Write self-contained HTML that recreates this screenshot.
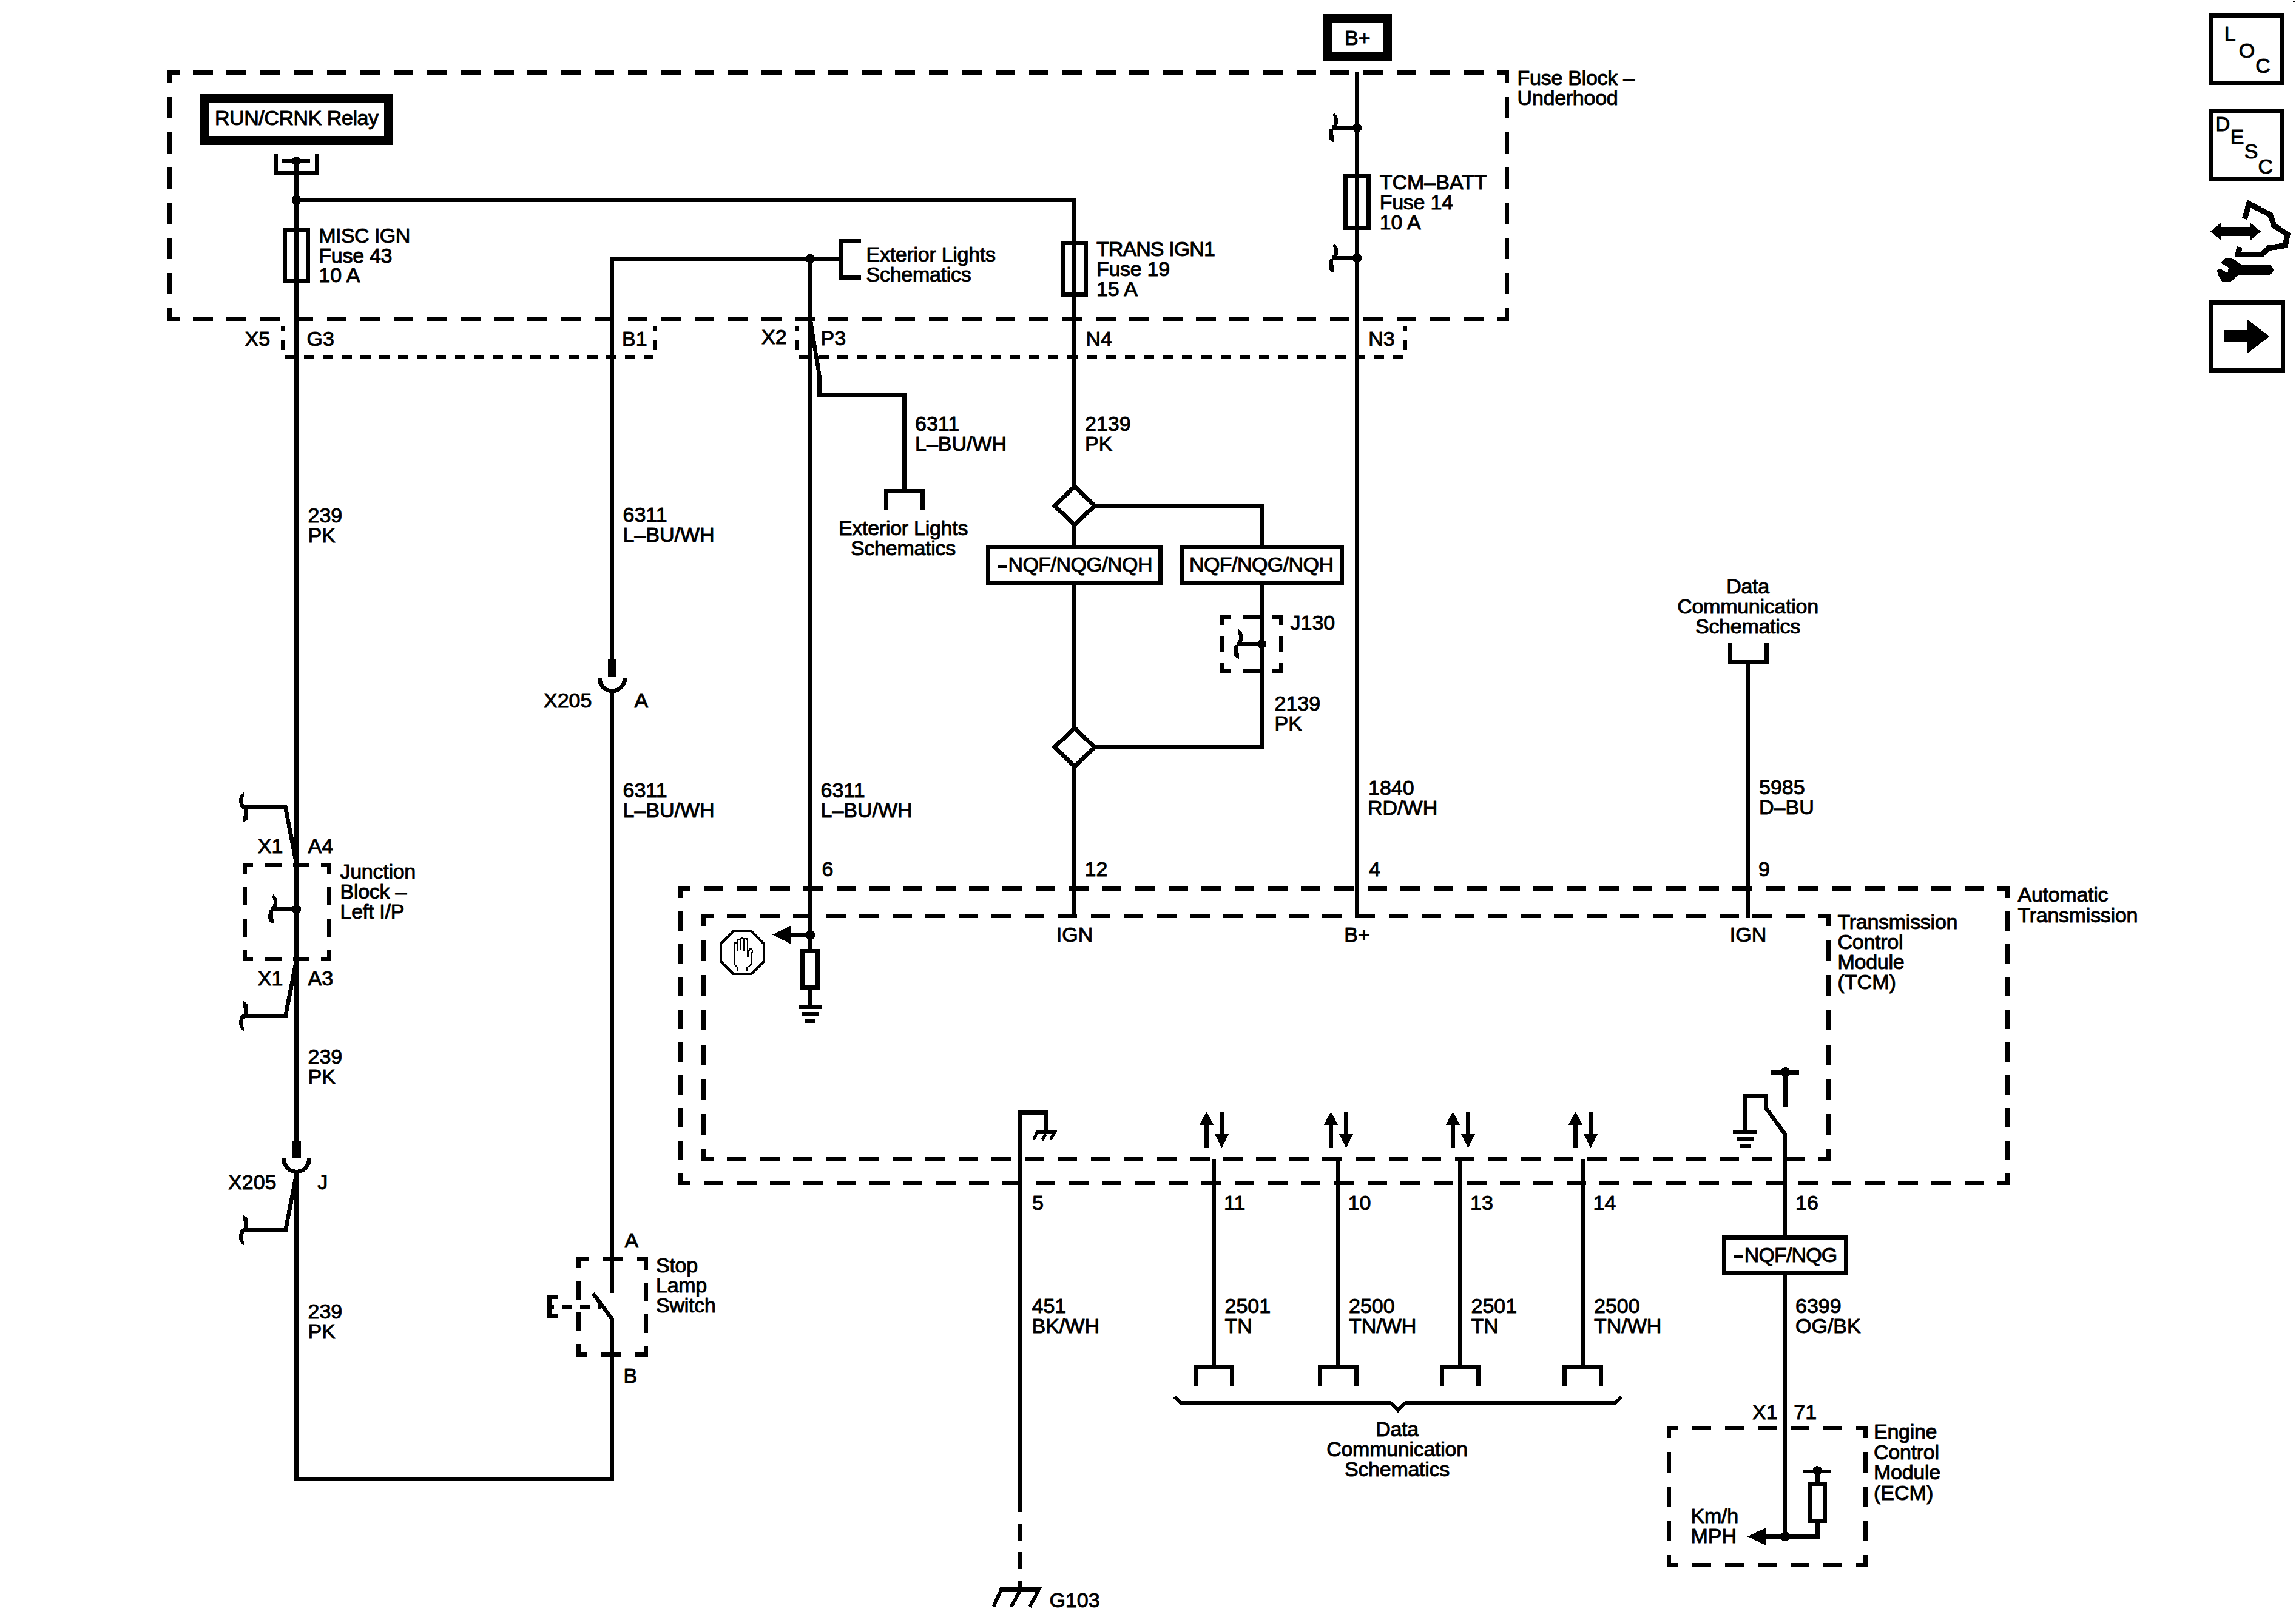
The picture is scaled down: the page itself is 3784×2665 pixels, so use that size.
<!DOCTYPE html>
<html><head><meta charset="utf-8"><title>Automatic Transmission Controls Schematic</title>
<style>
html,body{margin:0;padding:0;background:#fff;}
body{width:3784px;height:2665px;overflow:hidden;}
svg{display:block;}
text{font-family:"Liberation Sans",sans-serif;font-size:34px;fill:#000;stroke:#000;stroke-width:1px;stroke-linejoin:round;}
</style></head><body>
<svg width="3784" height="2665" viewBox="0 0 3784 2665" stroke="#000" fill="none" shape-rendering="crispEdges">
<rect x="0" y="0" width="3784" height="2665" fill="#fff" stroke="none"/>
<path d="M276.15 119.5L295.75 119.5M318.35 119.5L350.85 119.5M373.45 119.5L405.95 119.5M428.55 119.5L461.05 119.5M483.65 119.5L516.15 119.5M538.75 119.5L571.25 119.5M593.85 119.5L626.35 119.5M648.95 119.5L681.45 119.5M704.05 119.5L736.55 119.5M759.15 119.5L791.65 119.5M814.25 119.5L846.75 119.5M869.35 119.5L901.85 119.5M924.45 119.5L956.95 119.5M979.55 119.5L1012.05 119.5M1034.65 119.5L1067.15 119.5M1089.75 119.5L1122.25 119.5M1144.85 119.5L1177.35 119.5M1199.95 119.5L1232.45 119.5M1255.05 119.5L1287.55 119.5M1310.15 119.5L1342.65 119.5M1365.25 119.5L1397.75 119.5M1420.35 119.5L1452.85 119.5M1475.45 119.5L1507.95 119.5M1530.55 119.5L1563.05 119.5M1585.65 119.5L1618.15 119.5M1640.75 119.5L1673.25 119.5M1695.85 119.5L1728.35 119.5M1750.95 119.5L1783.45 119.5M1806.05 119.5L1838.55 119.5M1861.15 119.5L1893.65 119.5M1916.25 119.5L1948.75 119.5M1971.35 119.5L2003.85 119.5M2026.45 119.5L2058.95 119.5M2081.55 119.5L2114.05 119.5M2136.65 119.5L2169.15 119.5M2191.75 119.5L2224.25 119.5M2246.85 119.5L2279.35 119.5M2301.95 119.5L2334.45 119.5M2357.05 119.5L2389.55 119.5M2412.15 119.5L2444.65 119.5M2467.25 119.5L2486.85 119.5" fill="none" stroke-width="6.7" />
<path d="M276.15 525.5L295.75 525.5M318.35 525.5L350.85 525.5M373.45 525.5L405.95 525.5M428.55 525.5L461.05 525.5M483.65 525.5L516.15 525.5M538.75 525.5L571.25 525.5M593.85 525.5L626.35 525.5M648.95 525.5L681.45 525.5M704.05 525.5L736.55 525.5M759.15 525.5L791.65 525.5M814.25 525.5L846.75 525.5M869.35 525.5L901.85 525.5M924.45 525.5L956.95 525.5M979.55 525.5L1012.05 525.5M1034.65 525.5L1067.15 525.5M1089.75 525.5L1122.25 525.5M1144.85 525.5L1177.35 525.5M1199.95 525.5L1232.45 525.5M1255.05 525.5L1287.55 525.5M1310.15 525.5L1342.65 525.5M1365.25 525.5L1397.75 525.5M1420.35 525.5L1452.85 525.5M1475.45 525.5L1507.95 525.5M1530.55 525.5L1563.05 525.5M1585.65 525.5L1618.15 525.5M1640.75 525.5L1673.25 525.5M1695.85 525.5L1728.35 525.5M1750.95 525.5L1783.45 525.5M1806.05 525.5L1838.55 525.5M1861.15 525.5L1893.65 525.5M1916.25 525.5L1948.75 525.5M1971.35 525.5L2003.85 525.5M2026.45 525.5L2058.95 525.5M2081.55 525.5L2114.05 525.5M2136.65 525.5L2169.15 525.5M2191.75 525.5L2224.25 525.5M2246.85 525.5L2279.35 525.5M2301.95 525.5L2334.45 525.5M2357.05 525.5L2389.55 525.5M2412.15 525.5L2444.65 525.5M2467.25 525.5L2486.85 525.5" fill="none" stroke-width="6.7" />
<path d="M279.5 116.15L279.5 136.61M279.5 160.39L279.5 194.61M279.5 218.39L279.5 252.61M279.5 276.39L279.5 310.61M279.5 334.39L279.5 368.61M279.5 392.39L279.5 426.61M279.5 450.39L279.5 484.61M279.5 508.39L279.5 528.85" fill="none" stroke-width="6.7" />
<path d="M2483.5 116.15L2483.5 136.61M2483.5 160.39L2483.5 194.61M2483.5 218.39L2483.5 252.61M2483.5 276.39L2483.5 310.61M2483.5 334.39L2483.5 368.61M2483.5 392.39L2483.5 426.61M2483.5 450.39L2483.5 484.61M2483.5 508.39L2483.5 528.85" fill="none" stroke-width="6.7" />
<text transform="translate(2500.6 140.2) scale(1 1)" letter-spacing="-0.27">Fuse Block –</text>
<text transform="translate(2500.6 173.2) scale(1 1)" letter-spacing="-0.27">Underhood</text>
<rect x="336.5" y="162.6" width="303.9" height="68.8" fill="#fff" stroke-width="15"/>
<text transform="translate(354 205.8) scale(1 1)" textLength="270" lengthAdjust="spacing">RUN/CRNK Relay</text>
<polyline points="454.7,254.2 454.7,285.3 522.6,285.3 522.6,254.2" fill="none" stroke-width="6.7" stroke-linejoin="miter" stroke-linecap="butt"/>
<line x1="465" y1="265.4" x2="510.8" y2="265.4" stroke-width="6.7"/>
<circle cx="488.5" cy="265.4" r="7.8" fill="#000" stroke="none"/>
<line x1="488.5" y1="265.4" x2="488.5" y2="1881" stroke-width="6.7"/>
<circle cx="488.5" cy="329.5" r="8.1" fill="#000" stroke="none"/>
<polyline points="488.5,329.5 1770.5,329.5 1770.5,801.5" fill="none" stroke-width="6.7" stroke-linejoin="miter" stroke-linecap="butt"/>
<rect x="469.5" y="378.25" width="38" height="85.1" fill="none" stroke-width="6.9"/>
<text transform="translate(525.3 399.8) scale(1 1)" textLength="151" lengthAdjust="spacing">MISC IGN</text>
<text transform="translate(525.3 432.6) scale(1 1)" letter-spacing="-0.27">Fuse 43</text>
<text transform="translate(525.3 465.4) scale(1 1)">10 A</text>
<rect x="1751.45" y="400.65" width="38.1" height="84.6" fill="none" stroke-width="6.9"/>
<text transform="translate(1806.9 421.5) scale(1 1)" textLength="196" lengthAdjust="spacing">TRANS IGN1</text>
<text transform="translate(1806.9 454.6) scale(1 1)" letter-spacing="-0.27">Fuse 19</text>
<text transform="translate(1806.9 487.7) scale(1 1)">15 A</text>
<rect x="2187.5" y="30.4" width="98.8" height="62.8" fill="#fff" stroke-width="14.9"/>
<text transform="translate(2216 73.9) scale(1 1)">B+</text>
<line x1="2236.5" y1="118.9" x2="2236.5" y2="1512.7" stroke-width="6.7"/>
<rect x="2217.1" y="290.45" width="38.8" height="84.6" fill="none" stroke-width="6.9"/>
<text transform="translate(2273.7 311.9) scale(1 1)">TCM–BATT</text>
<text transform="translate(2273.7 345.1) scale(1 1)" letter-spacing="-0.27">Fuse 14</text>
<text transform="translate(2273.7 378.3) scale(1 1)">10 A</text>
<circle cx="2236.5" cy="210.4" r="7.8" fill="#000" stroke="none"/>
<line x1="2198.3" y1="210.4" x2="2236.5" y2="210.4" stroke-width="6.7"/>
<g transform="translate(2198.3 210.4) scale(-1 1)" stroke="none" fill="#000"><path d="M0.5,-24.5 C-4,-22 -7,-17 -7,-11 C-7,-5 -5,0.5 -1,3.4 L3,3.4 L3,-3.4 C1.5,-3.6 0.6,-4.5 0.1,-6 C-0.5,-9 -0.6,-13 -0.1,-15.4 C0.2,-17 0.6,-18 1.2,-19 Z"/><path d="M0.9,2 L0.9,10 C0.9,13 0.3,16 -0.7,18 L0,24.3 C3,23.8 5.5,22 6.9,19.5 C8.2,17 8.3,14 8.2,11 C8.1,7.5 7.6,5 6.5,2 Z"/></g>
<circle cx="2236.5" cy="425.4" r="7.8" fill="#000" stroke="none"/>
<line x1="2198.3" y1="425.4" x2="2236.5" y2="425.4" stroke-width="6.7"/>
<g transform="translate(2198.3 425.4) scale(-1 1)" stroke="none" fill="#000"><path d="M0.5,-24.5 C-4,-22 -7,-17 -7,-11 C-7,-5 -5,0.5 -1,3.4 L3,3.4 L3,-3.4 C1.5,-3.6 0.6,-4.5 0.1,-6 C-0.5,-9 -0.6,-13 -0.1,-15.4 C0.2,-17 0.6,-18 1.2,-19 Z"/><path d="M0.9,2 L0.9,10 C0.9,13 0.3,16 -0.7,18 L0,24.3 C3,23.8 5.5,22 6.9,19.5 C8.2,17 8.3,14 8.2,11 C8.1,7.5 7.6,5 6.5,2 Z"/></g>
<polyline points="1009,1086 1009,426.5 1384,426.5" fill="none" stroke-width="6.7" stroke-linejoin="miter" stroke-linecap="butt"/>
<circle cx="1335.5" cy="426.5" r="7.9" fill="#000" stroke="none"/>
<polyline points="1419,397.5 1386.6,397.5 1386.6,457.3 1419,457.3" fill="none" stroke-width="6.7" stroke-linejoin="miter" stroke-linecap="butt"/>
<text transform="translate(1427.5 430.8) scale(1 1)" letter-spacing="-0.27">Exterior Lights</text>
<text transform="translate(1427.5 464.2) scale(1 1)" letter-spacing="-0.27">Schematics</text>
<line x1="1335.5" y1="426.5" x2="1335.5" y2="1566" stroke-width="6.7"/>
<path d="M466.2 537.2L466.2 545.6M466.2 560.3L466.2 576.7" fill="none" stroke-width="6.9" />
<path d="M469.4 588.2L486.2 588.2M500.56 588.2L517.36 588.2M531.72 588.2L548.52 588.2M562.88 588.2L579.68 588.2M594.04 588.2L610.84 588.2M625.2 588.2L642 588.2M656.36 588.2L673.16 588.2M687.52 588.2L704.32 588.2M718.68 588.2L735.48 588.2M749.84 588.2L766.64 588.2M781 588.2L797.8 588.2M812.16 588.2L828.96 588.2M843.32 588.2L860.12 588.2M874.48 588.2L891.28 588.2M905.64 588.2L922.44 588.2M936.8 588.2L953.6 588.2M967.96 588.2L984.76 588.2M999.12 588.2L1015.92 588.2M1030.28 588.2L1047.08 588.2M1061.44 588.2L1077 588.2" fill="none" stroke-width="6.9" />
<path d="M1079.1 537.2L1079.1 545.6M1079.1 560.3L1079.1 576.7" fill="none" stroke-width="6.9" />
<path d="M1313.6 537.2L1313.6 545.6M1313.6 560.3L1313.6 576.7" fill="none" stroke-width="6.9" />
<path d="M1317 588.4L1334 588.4M1348.57 588.4L1365.57 588.4M1380.14 588.4L1397.14 588.4M1411.71 588.4L1428.71 588.4M1443.28 588.4L1460.28 588.4M1474.85 588.4L1491.85 588.4M1506.42 588.4L1523.42 588.4M1537.99 588.4L1554.99 588.4M1569.56 588.4L1586.56 588.4M1601.13 588.4L1618.13 588.4M1632.7 588.4L1649.7 588.4M1664.27 588.4L1681.27 588.4M1695.84 588.4L1712.84 588.4M1727.41 588.4L1744.41 588.4M1758.98 588.4L1775.98 588.4M1790.55 588.4L1807.55 588.4M1822.12 588.4L1839.12 588.4M1853.69 588.4L1870.69 588.4M1885.26 588.4L1902.26 588.4M1916.83 588.4L1933.83 588.4M1948.4 588.4L1965.4 588.4M1979.97 588.4L1996.97 588.4M2011.54 588.4L2028.54 588.4M2043.11 588.4L2060.11 588.4M2074.68 588.4L2091.68 588.4M2106.25 588.4L2123.25 588.4M2137.82 588.4L2154.82 588.4M2169.39 588.4L2186.39 588.4M2200.96 588.4L2217.96 588.4M2232.53 588.4L2249.53 588.4M2264.1 588.4L2281.1 588.4M2295.67 588.4L2312.5 588.4" fill="none" stroke-width="6.9" />
<path d="M2315.3 537.2L2315.3 545.6M2315.3 560.3L2315.3 576.7" fill="none" stroke-width="6.9" />
<text transform="translate(403.5 570) scale(1 1)">X5</text>
<text transform="translate(505.5 570) scale(1 1)">G3</text>
<text transform="translate(1025 570) scale(1 1)">B1</text>
<text transform="translate(1255 567.3) scale(1 1)">X2</text>
<text transform="translate(1352.5 569) scale(1 1)">P3</text>
<text transform="translate(1789.5 569.5) scale(1 1)">N4</text>
<text transform="translate(2255.2 569.5) scale(1 1)">N3</text>
<polyline points="1335.5,527 1350.5,620.2 1350.5,650.5 1490.5,650.5 1490.5,812" fill="none" stroke-width="6.7" stroke-linejoin="miter" stroke-linecap="butt"/>
<polyline points="1459.85,840.5 1459.85,809 1520.15,809 1520.15,840.5" fill="none" stroke-width="6.7" stroke-linejoin="miter" stroke-linecap="butt"/>
<text transform="translate(1508 709.7) scale(1 1)">6311</text>
<text transform="translate(1508 742.7) scale(1 1)">L–BU/WH</text>
<text transform="translate(1488.5 882) scale(1 1)" text-anchor="middle" letter-spacing="-0.27">Exterior Lights</text>
<text transform="translate(1488.5 915) scale(1 1)" text-anchor="middle" letter-spacing="-0.27">Schematics</text>
<text transform="translate(507.5 861) scale(1 1)">239</text>
<text transform="translate(507.5 894) scale(1 1)">PK</text>
<text transform="translate(1026.5 859.7) scale(1 1)">6311</text>
<text transform="translate(1026.5 892.7) scale(1 1)">L–BU/WH</text>
<text transform="translate(1026.5 1314) scale(1 1)">6311</text>
<text transform="translate(1026.5 1347) scale(1 1)">L–BU/WH</text>
<text transform="translate(1352.5 1313.5) scale(1 1)">6311</text>
<text transform="translate(1352.5 1346.5) scale(1 1)">L–BU/WH</text>
<text transform="translate(1788 709.7) scale(1 1)">2139</text>
<text transform="translate(1788 742.7) scale(1 1)">PK</text>
<text transform="translate(2255 1309.7) scale(1 1)">1840</text>
<text transform="translate(2254 1342.7) scale(1 1)">RD/WH</text>
<text transform="translate(2899 1309) scale(1 1)">5985</text>
<text transform="translate(2899 1342) scale(1 1)">D–BU</text>
<polyline points="1800.5,833.5 2079.5,833.5 2079.5,900" fill="none" stroke-width="6.7" stroke-linejoin="miter" stroke-linecap="butt"/>
<polyline points="1800.5,1231.5 2079.5,1231.5 2079.5,962" fill="none" stroke-width="6.7" stroke-linejoin="miter" stroke-linecap="butt"/>
<line x1="1770.5" y1="860" x2="1770.5" y2="1205" stroke-width="6.7"/>
<line x1="1770.5" y1="1258" x2="1770.5" y2="1512.7" stroke-width="6.7"/>
<polygon points="1771,801.9 1803.9,833.5 1771,865.1 1738.1,833.5" fill="#fff" stroke-width="7"/>
<polygon points="1771,1199.9 1803.9,1231.5 1771,1263.1 1738.1,1231.5" fill="#fff" stroke-width="7"/>
<rect x="1628.5" y="901.5" width="284" height="59" fill="#fff" stroke-width="7"/>
<rect x="1947.5" y="901.5" width="263.5" height="59" fill="#fff" stroke-width="7"/>
<line x1="1644.1" y1="933.9" x2="1659.9" y2="933.9" stroke-width="4"/>
<text transform="translate(1661.5 942.4) scale(1 1)" textLength="238" lengthAdjust="spacing">NQF/NQG/NQH</text>
<text transform="translate(1960 942.4) scale(1 1)" textLength="238" lengthAdjust="spacing">NQF/NQG/NQH</text>
<path d="M2010.15 1016.5L2027.95 1016.5M2048.05 1016.5L2076.95 1016.5M2097.05 1016.5L2114.85 1016.5" fill="none" stroke-width="6.7" />
<path d="M2010.15 1105.5L2027.95 1105.5M2048.05 1105.5L2076.95 1105.5M2097.05 1105.5L2114.85 1105.5" fill="none" stroke-width="6.7" />
<path d="M2013.5 1013.15L2013.5 1029.63M2013.5 1047.87L2013.5 1074.13M2013.5 1092.37L2013.5 1108.85" fill="none" stroke-width="6.7" />
<path d="M2111.5 1013.15L2111.5 1029.63M2111.5 1047.87L2111.5 1074.13M2111.5 1092.37L2111.5 1108.85" fill="none" stroke-width="6.7" />
<circle cx="2079.5" cy="1061.5" r="7.7" fill="#000" stroke="none"/>
<line x1="2041.5" y1="1061.4" x2="2079.5" y2="1061.4" stroke-width="6.7"/>
<g transform="translate(2041.5 1061.4) scale(-1 1)" stroke="none" fill="#000"><path d="M0.5,-24.5 C-4,-22 -7,-17 -7,-11 C-7,-5 -5,0.5 -1,3.4 L3,3.4 L3,-3.4 C1.5,-3.6 0.6,-4.5 0.1,-6 C-0.5,-9 -0.6,-13 -0.1,-15.4 C0.2,-17 0.6,-18 1.2,-19 Z"/><path d="M0.9,2 L0.9,10 C0.9,13 0.3,16 -0.7,18 L0,24.3 C3,23.8 5.5,22 6.9,19.5 C8.2,17 8.3,14 8.2,11 C8.1,7.5 7.6,5 6.5,2 Z"/></g>
<text transform="translate(2126.5 1037.6) scale(1 1)">J130</text>
<text transform="translate(2100.5 1170.8) scale(1 1)">2139</text>
<text transform="translate(2100.5 1203.8) scale(1 1)">PK</text>
<rect x="1002" y="1085.9" width="14" height="30" fill="#000" stroke-width="0"/>
<path d="M988.2 1117L988.2 1118A20.8 20.8 0 0 0 1029.8 1118L1029.8 1117" fill="none" stroke-width="6.8" />
<line x1="1009" y1="1136.8" x2="1009" y2="2131" stroke-width="6.7"/>
<text transform="translate(896 1165.8) scale(1 1)">X205</text>
<text transform="translate(1045.5 1165.8) scale(1 1)">A</text>
<text transform="translate(2880.5 977.8) scale(1 1)" text-anchor="middle" letter-spacing="-0.27">Data</text>
<text transform="translate(2880.5 1011.1) scale(1 1)" text-anchor="middle" letter-spacing="-0.27">Communication</text>
<text transform="translate(2880.5 1044.4) scale(1 1)" text-anchor="middle" letter-spacing="-0.27">Schematics</text>
<polyline points="2851.5,1058.9 2851.5,1090.6 2911.8,1090.6 2911.8,1058.9" fill="none" stroke-width="6.7" stroke-linejoin="miter" stroke-linecap="butt"/>
<line x1="2880.5" y1="1087" x2="2880.5" y2="1512.7" stroke-width="6.7"/>
<text transform="translate(1354.5 1443.6) scale(1 1)">6</text>
<text transform="translate(1787.5 1443.6) scale(1 1)">12</text>
<text transform="translate(2256 1443.6) scale(1 1)">4</text>
<text transform="translate(2898 1444) scale(1 1)">9</text>
<path d="M1118.15 1464.5L1137.63 1464.5M1160.05 1464.5L1192.3 1464.5M1214.72 1464.5L1246.98 1464.5M1269.4 1464.5L1301.65 1464.5M1324.07 1464.5L1356.33 1464.5M1378.75 1464.5L1411 1464.5M1433.42 1464.5L1465.68 1464.5M1488.1 1464.5L1520.35 1464.5M1542.77 1464.5L1575.03 1464.5M1597.45 1464.5L1629.7 1464.5M1652.12 1464.5L1684.38 1464.5M1706.8 1464.5L1739.05 1464.5M1761.47 1464.5L1793.73 1464.5M1816.15 1464.5L1848.4 1464.5M1870.82 1464.5L1903.08 1464.5M1925.5 1464.5L1957.75 1464.5M1980.17 1464.5L2012.43 1464.5M2034.85 1464.5L2067.1 1464.5M2089.52 1464.5L2121.78 1464.5M2144.2 1464.5L2176.45 1464.5M2198.87 1464.5L2231.13 1464.5M2253.55 1464.5L2285.8 1464.5M2308.22 1464.5L2340.48 1464.5M2362.9 1464.5L2395.15 1464.5M2417.57 1464.5L2449.83 1464.5M2472.25 1464.5L2504.5 1464.5M2526.92 1464.5L2559.18 1464.5M2581.6 1464.5L2613.85 1464.5M2636.27 1464.5L2668.53 1464.5M2690.95 1464.5L2723.2 1464.5M2745.62 1464.5L2777.88 1464.5M2800.3 1464.5L2832.55 1464.5M2854.97 1464.5L2887.23 1464.5M2909.65 1464.5L2941.9 1464.5M2964.32 1464.5L2996.58 1464.5M3019 1464.5L3051.25 1464.5M3073.67 1464.5L3105.93 1464.5M3128.35 1464.5L3160.6 1464.5M3183.02 1464.5L3215.28 1464.5M3237.7 1464.5L3269.95 1464.5M3292.37 1464.5L3311.85 1464.5" fill="none" stroke-width="6.7" />
<path d="M1118.15 1949.5L1137.63 1949.5M1160.05 1949.5L1192.3 1949.5M1214.72 1949.5L1246.98 1949.5M1269.4 1949.5L1301.65 1949.5M1324.07 1949.5L1356.33 1949.5M1378.75 1949.5L1411 1949.5M1433.42 1949.5L1465.68 1949.5M1488.1 1949.5L1520.35 1949.5M1542.77 1949.5L1575.03 1949.5M1597.45 1949.5L1629.7 1949.5M1652.12 1949.5L1684.38 1949.5M1706.8 1949.5L1739.05 1949.5M1761.47 1949.5L1793.73 1949.5M1816.15 1949.5L1848.4 1949.5M1870.82 1949.5L1903.08 1949.5M1925.5 1949.5L1957.75 1949.5M1980.17 1949.5L2012.43 1949.5M2034.85 1949.5L2067.1 1949.5M2089.52 1949.5L2121.78 1949.5M2144.2 1949.5L2176.45 1949.5M2198.87 1949.5L2231.13 1949.5M2253.55 1949.5L2285.8 1949.5M2308.22 1949.5L2340.48 1949.5M2362.9 1949.5L2395.15 1949.5M2417.57 1949.5L2449.83 1949.5M2472.25 1949.5L2504.5 1949.5M2526.92 1949.5L2559.18 1949.5M2581.6 1949.5L2613.85 1949.5M2636.27 1949.5L2668.53 1949.5M2690.95 1949.5L2723.2 1949.5M2745.62 1949.5L2777.88 1949.5M2800.3 1949.5L2832.55 1949.5M2854.97 1949.5L2887.23 1949.5M2909.65 1949.5L2941.9 1949.5M2964.32 1949.5L2996.58 1949.5M3019 1949.5L3051.25 1949.5M3073.67 1949.5L3105.93 1949.5M3128.35 1949.5L3160.6 1949.5M3183.02 1949.5L3215.28 1949.5M3237.7 1949.5L3269.95 1949.5M3292.37 1949.5L3311.85 1949.5" fill="none" stroke-width="6.7" />
<path d="M1121.5 1461.15L1121.5 1480.4M1121.5 1502.49L1121.5 1534.29M1121.5 1556.38L1121.5 1588.17M1121.5 1610.27L1121.5 1642.06M1121.5 1664.16L1121.5 1695.95M1121.5 1718.05L1121.5 1749.84M1121.5 1771.94L1121.5 1803.73M1121.5 1825.83L1121.5 1857.62M1121.5 1879.71L1121.5 1911.51M1121.5 1933.6L1121.5 1952.85" fill="none" stroke-width="6.7" />
<path d="M3308.5 1461.15L3308.5 1480.4M3308.5 1502.49L3308.5 1534.29M3308.5 1556.38L3308.5 1588.17M3308.5 1610.27L3308.5 1642.06M3308.5 1664.16L3308.5 1695.95M3308.5 1718.05L3308.5 1749.84M3308.5 1771.94L3308.5 1803.73M3308.5 1825.83L3308.5 1857.62M3308.5 1879.71L3308.5 1911.51M3308.5 1933.6L3308.5 1952.85" fill="none" stroke-width="6.7" />
<path d="M1156.15 1509.5L1175.59 1509.5M1197.94 1509.5L1230.12 1509.5M1252.47 1509.5L1284.64 1509.5M1307 1509.5L1339.17 1509.5M1361.53 1509.5L1393.7 1509.5M1416.06 1509.5L1448.23 1509.5M1470.59 1509.5L1502.76 1509.5M1525.12 1509.5L1557.29 1509.5M1579.65 1509.5L1611.82 1509.5M1634.18 1509.5L1666.35 1509.5M1688.71 1509.5L1720.88 1509.5M1743.24 1509.5L1775.41 1509.5M1797.77 1509.5L1829.94 1509.5M1852.3 1509.5L1884.47 1509.5M1906.83 1509.5L1939 1509.5M1961.35 1509.5L1993.53 1509.5M2015.88 1509.5L2048.06 1509.5M2070.41 1509.5L2102.59 1509.5M2124.94 1509.5L2157.12 1509.5M2179.47 1509.5L2211.64 1509.5M2234 1509.5L2266.17 1509.5M2288.53 1509.5L2320.7 1509.5M2343.06 1509.5L2375.23 1509.5M2397.59 1509.5L2429.76 1509.5M2452.12 1509.5L2484.29 1509.5M2506.65 1509.5L2538.82 1509.5M2561.18 1509.5L2593.35 1509.5M2615.71 1509.5L2647.88 1509.5M2670.24 1509.5L2702.41 1509.5M2724.77 1509.5L2756.94 1509.5M2779.3 1509.5L2811.47 1509.5M2833.83 1509.5L2866 1509.5M2888.35 1509.5L2920.53 1509.5M2942.88 1509.5L2975.06 1509.5M2997.41 1509.5L3016.85 1509.5" fill="none" stroke-width="6.7" />
<path d="M1156.15 1910.5L1175.59 1910.5M1197.94 1910.5L1230.12 1910.5M1252.47 1910.5L1284.64 1910.5M1307 1910.5L1339.17 1910.5M1361.53 1910.5L1393.7 1910.5M1416.06 1910.5L1448.23 1910.5M1470.59 1910.5L1502.76 1910.5M1525.12 1910.5L1557.29 1910.5M1579.65 1910.5L1611.82 1910.5M1634.18 1910.5L1666.35 1910.5M1688.71 1910.5L1720.88 1910.5M1743.24 1910.5L1775.41 1910.5M1797.77 1910.5L1829.94 1910.5M1852.3 1910.5L1884.47 1910.5M1906.83 1910.5L1939 1910.5M1961.35 1910.5L1993.53 1910.5M2015.88 1910.5L2048.06 1910.5M2070.41 1910.5L2102.59 1910.5M2124.94 1910.5L2157.12 1910.5M2179.47 1910.5L2211.64 1910.5M2234 1910.5L2266.17 1910.5M2288.53 1910.5L2320.7 1910.5M2343.06 1910.5L2375.23 1910.5M2397.59 1910.5L2429.76 1910.5M2452.12 1910.5L2484.29 1910.5M2506.65 1910.5L2538.82 1910.5M2561.18 1910.5L2593.35 1910.5M2615.71 1910.5L2647.88 1910.5M2670.24 1910.5L2702.41 1910.5M2724.77 1910.5L2756.94 1910.5M2779.3 1910.5L2811.47 1910.5M2833.83 1910.5L2866 1910.5M2888.35 1910.5L2920.53 1910.5M2942.88 1910.5L2975.06 1910.5M2997.41 1910.5L3016.85 1910.5" fill="none" stroke-width="6.7" />
<path d="M1159.5 1506.15L1159.5 1526.4M1159.5 1549.89L1159.5 1583.68M1159.5 1607.17L1159.5 1640.97M1159.5 1664.46L1159.5 1698.26M1159.5 1721.74L1159.5 1755.54M1159.5 1779.03L1159.5 1812.83M1159.5 1836.32L1159.5 1870.11M1159.5 1893.6L1159.5 1913.85" fill="none" stroke-width="6.7" />
<path d="M3013.5 1506.15L3013.5 1526.4M3013.5 1549.89L3013.5 1583.68M3013.5 1607.17L3013.5 1640.97M3013.5 1664.46L3013.5 1698.26M3013.5 1721.74L3013.5 1755.54M3013.5 1779.03L3013.5 1812.83M3013.5 1836.32L3013.5 1870.11M3013.5 1893.6L3013.5 1913.85" fill="none" stroke-width="6.7" />
<text transform="translate(3325.5 1486) scale(1 1)" letter-spacing="-0.27">Automatic</text>
<text transform="translate(3325.5 1519.5) scale(1 1)" letter-spacing="-0.27">Transmission</text>
<text transform="translate(3028.5 1531) scale(1 1)" letter-spacing="-0.27">Transmission</text>
<text transform="translate(3028.5 1564) scale(1 1)" letter-spacing="-0.27">Control</text>
<text transform="translate(3028.5 1597) scale(1 1)" letter-spacing="-0.27">Module</text>
<text transform="translate(3028.5 1630) scale(1 1)">(TCM)</text>
<text transform="translate(1771 1551.6) scale(1 1)" text-anchor="middle">IGN</text>
<text transform="translate(2236.5 1551.6) scale(1 1)" text-anchor="middle">B+</text>
<text transform="translate(2881 1551.6) scale(1 1)" text-anchor="middle">IGN</text>
<circle cx="1335.5" cy="1540.8" r="7.8" fill="#000" stroke="none"/>
<line x1="1302" y1="1540.4" x2="1335.5" y2="1540.4" stroke-width="6.7"/>
<polygon points="1273.2,1540.4 1303.8,1524.9 1303.8,1555.9" fill="#000" stroke="none"/>
<rect x="1322.3" y="1567.3" width="25.3" height="60.1" fill="none" stroke-width="6.5"/>
<line x1="1335" y1="1630" x2="1335" y2="1659" stroke-width="6.7"/>
<line x1="1315.8" y1="1659.3" x2="1354.8" y2="1659.3" stroke-width="6.6"/>
<line x1="1321.4" y1="1670.8" x2="1349.2" y2="1670.8" stroke-width="6.6"/>
<line x1="1326.5" y1="1682.3" x2="1344.1" y2="1682.3" stroke-width="6.6"/>
<polygon points="1259,1584.6 1238.2,1605.4 1208.8,1605.4 1188,1584.6 1188,1555.2 1208.8,1534.4 1238.2,1534.4 1259,1555.2" fill="#fff" stroke-width="4"/>
<path transform="translate(1223.5 1569.9)" d="M-8.5,30.8 L-8.5,24.7 L-13.4,19.1 L-13.4,-15.4 L-8.5,-16.5 L-8.5,-2.3 M-8.5,-16.5 L-8.5,-20.4 L-3.4,-21.5 L-3.4,-4.3 M-3.4,-21.5 L-0.6,-24.6 L2.4,-22.7 L2.4,-2.3 M2.4,-22.7 L7.4,-22.7 L8,-20.4 L8,7 M10.2,7 L10.2,-1.5 L12.2,-5.5 L15.5,-5.5 L16.8,-3.8 L16.8,-1.5 L15.6,-0.4 L15.5,13 L15,19.1 L11.6,21.9 L7.7,24.7 L7.7,30.8" fill="none" stroke-width="2" stroke-linejoin="round" stroke-linecap="butt"/>
<line x1="1232.6" y1="1565" x2="1232.6" y2="1578" stroke-width="3.6"/>
<polyline points="1681.5,2490 1681.5,1833.5 1723.5,1833.5 1723.5,1863" fill="none" stroke-width="6.7" stroke-linejoin="miter" stroke-linecap="butt"/>
<polygon points="1708.3,1862.2 1742.8,1862.2 1740,1869.1 1705.5,1869.1" fill="#000" stroke="none"/>
<line x1="1710.6" y1="1863.1" x2="1703.5" y2="1878.8" stroke-width="4.9"/>
<line x1="1739" y1="1863.1" x2="1731.6" y2="1878.8" stroke-width="4.9"/>
<line x1="1723.6" y1="1869.1" x2="1717.2" y2="1878.8" stroke-width="4.9"/>
<text transform="translate(1701 1993.5) scale(1 1)">5</text>
<text transform="translate(1700.5 2164) scale(1 1)">451</text>
<text transform="translate(1700.5 2197) scale(1 1)">BK/WH</text>
<line x1="1681.5" y1="2480" x2="1681.5" y2="2491.8" stroke-width="6.7"/>
<path d="M1681.5 2511L1681.5 2538.8M1681.5 2558L1681.5 2585.8M1681.5 2605.2L1681.5 2618" fill="none" stroke-width="6.7" />
<polygon points="1649,2616 1716.9,2616 1713.4,2623 1645.6,2623" fill="#000" stroke="none"/>
<line x1="1651.1" y1="2617.4" x2="1637.3" y2="2648.3" stroke-width="5.8"/>
<line x1="1713.4" y1="2617.4" x2="1697.1" y2="2648.3" stroke-width="5.8"/>
<line x1="1680.2" y1="2623" x2="1666.4" y2="2648.3" stroke-width="5.8"/>
<text transform="translate(1729.5 2648.7) scale(1 1)">G103</text>
<line x1="1988.5" y1="1852.2" x2="1988.5" y2="1891.8" stroke-width="6.7"/>
<polygon points="1988.5,1831.6 1977,1854.2 2000,1854.2" fill="#000" stroke="none"/>
<line x1="2013.5" y1="1831.6" x2="2013.5" y2="1871.2" stroke-width="6.7"/>
<polygon points="2013.5,1891.8 2002,1869.2 2025,1869.2" fill="#000" stroke="none"/>
<line x1="2000.5" y1="1910" x2="2000.5" y2="2256" stroke-width="6.7"/>
<polyline points="1970.35,2284.7 1970.35,2253.2 2030.65,2253.2 2030.65,2284.7" fill="none" stroke-width="6.7" stroke-linejoin="miter" stroke-linecap="butt"/>
<text transform="translate(2017 1993.5) scale(1 1)">11</text>
<text transform="translate(2018.5 2164) scale(1 1)">2501</text>
<text transform="translate(2018.5 2197) scale(1 1)">TN</text>
<line x1="2193.5" y1="1852.2" x2="2193.5" y2="1891.8" stroke-width="6.7"/>
<polygon points="2193.5,1831.6 2182,1854.2 2205,1854.2" fill="#000" stroke="none"/>
<line x1="2218.5" y1="1831.6" x2="2218.5" y2="1871.2" stroke-width="6.7"/>
<polygon points="2218.5,1891.8 2207,1869.2 2230,1869.2" fill="#000" stroke="none"/>
<line x1="2205.5" y1="1910" x2="2205.5" y2="2256" stroke-width="6.7"/>
<polyline points="2175.35,2284.7 2175.35,2253.2 2235.65,2253.2 2235.65,2284.7" fill="none" stroke-width="6.7" stroke-linejoin="miter" stroke-linecap="butt"/>
<text transform="translate(2221.5 1993.5) scale(1 1)">10</text>
<text transform="translate(2223 2164) scale(1 1)">2500</text>
<text transform="translate(2223 2197) scale(1 1)">TN/WH</text>
<line x1="2394.5" y1="1852.2" x2="2394.5" y2="1891.8" stroke-width="6.7"/>
<polygon points="2394.5,1831.6 2383,1854.2 2406,1854.2" fill="#000" stroke="none"/>
<line x1="2419.5" y1="1831.6" x2="2419.5" y2="1871.2" stroke-width="6.7"/>
<polygon points="2419.5,1891.8 2408,1869.2 2431,1869.2" fill="#000" stroke="none"/>
<line x1="2406.5" y1="1910" x2="2406.5" y2="2256" stroke-width="6.7"/>
<polyline points="2376.35,2284.7 2376.35,2253.2 2436.65,2253.2 2436.65,2284.7" fill="none" stroke-width="6.7" stroke-linejoin="miter" stroke-linecap="butt"/>
<text transform="translate(2423 1993.5) scale(1 1)">13</text>
<text transform="translate(2424.5 2164) scale(1 1)">2501</text>
<text transform="translate(2424.5 2197) scale(1 1)">TN</text>
<line x1="2596.5" y1="1852.2" x2="2596.5" y2="1891.8" stroke-width="6.7"/>
<polygon points="2596.5,1831.6 2585,1854.2 2608,1854.2" fill="#000" stroke="none"/>
<line x1="2621.5" y1="1831.6" x2="2621.5" y2="1871.2" stroke-width="6.7"/>
<polygon points="2621.5,1891.8 2610,1869.2 2633,1869.2" fill="#000" stroke="none"/>
<line x1="2608.5" y1="1910" x2="2608.5" y2="2256" stroke-width="6.7"/>
<polyline points="2578.35,2284.7 2578.35,2253.2 2638.65,2253.2 2638.65,2284.7" fill="none" stroke-width="6.7" stroke-linejoin="miter" stroke-linecap="butt"/>
<text transform="translate(2625.5 1993.5) scale(1 1)">14</text>
<text transform="translate(2627 2164) scale(1 1)">2500</text>
<text transform="translate(2627 2197) scale(1 1)">TN/WH</text>
<polyline points="1936,2302 1946,2312.5 2292,2312.5 2304,2324 2316,2312.5 2662,2312.5 2672.5,2302" fill="none" stroke-width="6.2" stroke-linejoin="miter" stroke-linecap="butt"/>
<text transform="translate(2302.5 2366.6) scale(1 1)" text-anchor="middle" letter-spacing="-0.27">Data</text>
<text transform="translate(2302.5 2399.9) scale(1 1)" text-anchor="middle" letter-spacing="-0.27">Communication</text>
<text transform="translate(2302.5 2433.2) scale(1 1)" text-anchor="middle" letter-spacing="-0.27">Schematics</text>
<line x1="2918.9" y1="1767.5" x2="2965.2" y2="1767.5" stroke-width="6.7"/>
<line x1="2942.5" y1="1767" x2="2942.5" y2="1823.9" stroke-width="6.7"/>
<circle cx="2942.3" cy="1767" r="8" fill="#000" stroke="none"/>
<polyline points="2875.5,1864.6 2875.5,1806.5 2910.5,1806.5 2910.5,1826.4 2942.1,1869.2 2942.1,2040" fill="none" stroke-width="6.7" stroke-linejoin="miter" stroke-linecap="butt"/>
<line x1="2856" y1="1865.4" x2="2895" y2="1865.4" stroke-width="6.8"/>
<line x1="2861.5" y1="1877" x2="2889.5" y2="1877" stroke-width="6.8"/>
<line x1="2866.5" y1="1888.6" x2="2884.5" y2="1888.6" stroke-width="6.8"/>
<text transform="translate(2959 1993.5) scale(1 1)">16</text>
<rect x="2841.5" y="2039.5" width="201" height="59" fill="#fff" stroke-width="7"/>
<line x1="2857" y1="2071" x2="2873" y2="2071" stroke-width="4"/>
<text transform="translate(2874.8 2080) scale(1 1)" textLength="153.4" lengthAdjust="spacing">NQF/NQG</text>
<line x1="2942.1" y1="2102" x2="2942.1" y2="2532" stroke-width="6.7"/>
<text transform="translate(2959 2164) scale(1 1)">6399</text>
<text transform="translate(2959 2197) scale(1 1)">OG/BK</text>
<text transform="translate(2888 2338.8) scale(1 1)">X1</text>
<text transform="translate(2956.3 2338.8) scale(1 1)">71</text>
<path d="M2747.15 2353.5L2766.43 2353.5M2788.57 2353.5L2820.43 2353.5M2842.57 2353.5L2874.43 2353.5M2896.57 2353.5L2928.43 2353.5M2950.57 2353.5L2982.43 2353.5M3004.57 2353.5L3036.43 2353.5M3058.57 2353.5L3077.85 2353.5" fill="none" stroke-width="6.7" />
<path d="M2747.15 2579.5L2766.43 2579.5M2788.57 2579.5L2820.43 2579.5M2842.57 2579.5L2874.43 2579.5M2896.57 2579.5L2928.43 2579.5M2950.57 2579.5L2982.43 2579.5M3004.57 2579.5L3036.43 2579.5M3058.57 2579.5L3077.85 2579.5" fill="none" stroke-width="6.7" />
<path d="M2750.5 2350.15L2750.5 2370.17M2750.5 2393.33L2750.5 2426.67M2750.5 2449.83L2750.5 2483.17M2750.5 2506.33L2750.5 2539.67M2750.5 2562.83L2750.5 2582.85" fill="none" stroke-width="6.7" />
<path d="M3074.5 2350.15L3074.5 2370.17M3074.5 2393.33L3074.5 2426.67M3074.5 2449.83L3074.5 2483.17M3074.5 2506.33L3074.5 2539.67M3074.5 2562.83L3074.5 2582.85" fill="none" stroke-width="6.7" />
<text transform="translate(3088 2371.3) scale(1 1)" letter-spacing="-0.27">Engine</text>
<text transform="translate(3088 2404.7) scale(1 1)" letter-spacing="-0.27">Control</text>
<text transform="translate(3088 2438.1) scale(1 1)" letter-spacing="-0.27">Module</text>
<text transform="translate(3088 2471.5) scale(1 1)">(ECM)</text>
<line x1="2972.2" y1="2425" x2="3017.9" y2="2425" stroke-width="6.9"/>
<circle cx="2995.1" cy="2424" r="7.8" fill="#000" stroke="none"/>
<line x1="2995.5" y1="2424" x2="2995.5" y2="2446" stroke-width="6.7"/>
<rect x="2982.5" y="2446" width="25" height="60.7" fill="none" stroke-width="6.5"/>
<polyline points="2995.5,2509 2995.5,2532.5 2909,2532.5" fill="none" stroke-width="6.7" stroke-linejoin="miter" stroke-linecap="butt"/>
<circle cx="2941.8" cy="2532.3" r="8" fill="#000" stroke="none"/>
<polygon points="2880.2,2532.4 2910.8,2517.5 2910.8,2547.3" fill="#000" stroke="none"/>
<text transform="translate(2786.5 2510) scale(1 1)" letter-spacing="-0.27">Km/h</text>
<text transform="translate(2786.5 2542.6) scale(1 1)">MPH</text>
<polyline points="401.5,1330.6 470.6,1330.6 488.5,1424" fill="none" stroke-width="6.7" stroke-linejoin="miter" stroke-linecap="butt"/>
<g transform="translate(401 1330.6) scale(1 1)" stroke="none" fill="#000"><path d="M0.5,-24.5 C-4,-22 -7,-17 -7,-11 C-7,-5 -5,0.5 -1,3.4 L3,3.4 L3,-3.4 C1.5,-3.6 0.6,-4.5 0.1,-6 C-0.5,-9 -0.6,-13 -0.1,-15.4 C0.2,-17 0.6,-18 1.2,-19 Z"/><path d="M0.9,2 L0.9,10 C0.9,13 0.3,16 -0.7,18 L0,24.3 C3,23.8 5.5,22 6.9,19.5 C8.2,17 8.3,14 8.2,11 C8.1,7.5 7.6,5 6.5,2 Z"/></g>
<polyline points="401.5,1674.6 470.6,1674.6 488.5,1582" fill="none" stroke-width="6.7" stroke-linejoin="miter" stroke-linecap="butt"/>
<g transform="translate(401 1674.6) scale(1 -1)" stroke="none" fill="#000"><path d="M0.5,-24.5 C-4,-22 -7,-17 -7,-11 C-7,-5 -5,0.5 -1,3.4 L3,3.4 L3,-3.4 C1.5,-3.6 0.6,-4.5 0.1,-6 C-0.5,-9 -0.6,-13 -0.1,-15.4 C0.2,-17 0.6,-18 1.2,-19 Z"/><path d="M0.9,2 L0.9,10 C0.9,13 0.3,16 -0.7,18 L0,24.3 C3,23.8 5.5,22 6.9,19.5 C8.2,17 8.3,14 8.2,11 C8.1,7.5 7.6,5 6.5,2 Z"/></g>
<polyline points="401.5,2027.4 470.6,2027.4 488.5,1935" fill="none" stroke-width="6.7" stroke-linejoin="miter" stroke-linecap="butt"/>
<g transform="translate(401 2027.4) scale(1 -1)" stroke="none" fill="#000"><path d="M0.5,-24.5 C-4,-22 -7,-17 -7,-11 C-7,-5 -5,0.5 -1,3.4 L3,3.4 L3,-3.4 C1.5,-3.6 0.6,-4.5 0.1,-6 C-0.5,-9 -0.6,-13 -0.1,-15.4 C0.2,-17 0.6,-18 1.2,-19 Z"/><path d="M0.9,2 L0.9,10 C0.9,13 0.3,16 -0.7,18 L0,24.3 C3,23.8 5.5,22 6.9,19.5 C8.2,17 8.3,14 8.2,11 C8.1,7.5 7.6,5 6.5,2 Z"/></g>
<path d="M400.15 1425.5L417.17 1425.5M436.17 1425.5L463.5 1425.5M482.5 1425.5L509.84 1425.5M528.83 1425.5L545.85 1425.5" fill="none" stroke-width="6.7" />
<path d="M400.15 1580.5L417.17 1580.5M436.17 1580.5L463.5 1580.5M482.5 1580.5L509.84 1580.5M528.83 1580.5L545.85 1580.5" fill="none" stroke-width="6.7" />
<path d="M403.5 1422.15L403.5 1440.74M403.5 1461.92L403.5 1492.41M403.5 1513.59L403.5 1544.08M403.5 1565.26L403.5 1583.85" fill="none" stroke-width="6.7" />
<path d="M542.5 1422.15L542.5 1440.74M542.5 1461.92L542.5 1492.41M542.5 1513.59L542.5 1544.08M542.5 1565.26L542.5 1583.85" fill="none" stroke-width="6.7" />
<circle cx="488.5" cy="1498.4" r="7.8" fill="#000" stroke="none"/>
<line x1="450.4" y1="1498.4" x2="488.5" y2="1498.4" stroke-width="6.7"/>
<g transform="translate(450.4 1498.4) scale(-1 1)" stroke="none" fill="#000"><path d="M0.5,-24.5 C-4,-22 -7,-17 -7,-11 C-7,-5 -5,0.5 -1,3.4 L3,3.4 L3,-3.4 C1.5,-3.6 0.6,-4.5 0.1,-6 C-0.5,-9 -0.6,-13 -0.1,-15.4 C0.2,-17 0.6,-18 1.2,-19 Z"/><path d="M0.9,2 L0.9,10 C0.9,13 0.3,16 -0.7,18 L0,24.3 C3,23.8 5.5,22 6.9,19.5 C8.2,17 8.3,14 8.2,11 C8.1,7.5 7.6,5 6.5,2 Z"/></g>
<text transform="translate(424.8 1405.8) scale(1 1)">X1</text>
<text transform="translate(507.5 1405.8) scale(1 1)">A4</text>
<text transform="translate(424.8 1624) scale(1 1)">X1</text>
<text transform="translate(507.5 1624) scale(1 1)">A3</text>
<text transform="translate(560.5 1447.6) scale(1 1)" letter-spacing="-0.27">Junction</text>
<text transform="translate(560.5 1480.8) scale(1 1)" letter-spacing="-0.27">Block –</text>
<text transform="translate(560.5 1514) scale(1 1)" letter-spacing="-0.27">Left I/P</text>
<text transform="translate(507.5 1752.5) scale(1 1)">239</text>
<text transform="translate(507.5 1785.5) scale(1 1)">PK</text>
<rect x="481.5" y="1880.5" width="14" height="27.8" fill="#000" stroke-width="0"/>
<path d="M467.7 1909.4L467.7 1910.4A20.8 20.8 0 0 0 509.3 1910.4L509.3 1909.4" fill="none" stroke-width="6.8" />
<text transform="translate(376.1 1959.5) scale(1 1)">X205</text>
<text transform="translate(523.2 1959.5) scale(1 1)">J</text>
<polyline points="488.5,1929.2 488.5,2437.5 1009,2437.5 1009,2174.3 977.4,2131.8" fill="none" stroke-width="6.7" stroke-linejoin="miter" stroke-linecap="butt"/>
<text transform="translate(507.5 2173) scale(1 1)">239</text>
<text transform="translate(507.5 2206) scale(1 1)">PK</text>
<path d="M950.15 2075.5L971.47 2075.5M994.23 2075.5L1026.97 2075.5M1049.73 2075.5L1067.85 2075.5" fill="none" stroke-width="6.7" />
<path d="M950.15 2232.5L968.27 2232.5M991.03 2232.5L1023.77 2232.5M1046.53 2232.5L1067.85 2232.5" fill="none" stroke-width="6.7" />
<path d="M953.5 2072.15L953.5 2089.34M953.5 2110.8L953.5 2141.67M953.5 2163.13L953.5 2194.01M953.5 2215.46L953.5 2235.85" fill="none" stroke-width="6.7" />
<path d="M1064.5 2072.15L1064.5 2092.54M1064.5 2113.99L1064.5 2144.87M1064.5 2166.33L1064.5 2197.2M1064.5 2218.66L1064.5 2235.85" fill="none" stroke-width="6.7" />
<text transform="translate(1029.5 2056) scale(1 1)">A</text>
<text transform="translate(1027.5 2278.5) scale(1 1)">B</text>
<text transform="translate(1081 2096.5) scale(1 1)" letter-spacing="-0.27">Stop</text>
<text transform="translate(1081 2129.7) scale(1 1)" letter-spacing="-0.27">Lamp</text>
<text transform="translate(1081 2162.9) scale(1 1)" letter-spacing="-0.27">Switch</text>
<polyline points="919.9,2137.5 905.5,2137.5 905.5,2169.6 919.9,2169.6" fill="none" stroke-width="6.9" stroke-linejoin="miter" stroke-linecap="butt"/>
<line x1="905.5" y1="2153.6" x2="913" y2="2153.6" stroke-width="6.9"/>
<path d="M927.1 2153.6L941.9 2153.6M956 2153.6L972 2153.6M985.3 2153.6L991 2153.6" fill="none" stroke-width="6.9" />
<rect x="3643.5" y="25.5" width="118" height="111" fill="none" stroke-width="6.9"/>
<text transform="translate(3665.8 66.9) scale(1 1)">L</text>
<text transform="translate(3689.8 95.4) scale(1 1)">O</text>
<text transform="translate(3717.3 120.3) scale(1 1)">C</text>
<rect x="3643.5" y="182.5" width="118" height="112" fill="none" stroke-width="6.9"/>
<text transform="translate(3650.8 215.9) scale(1 1)">D</text>
<text transform="translate(3675.8 236.9) scale(1 1)">E</text>
<text transform="translate(3698.8 261.4) scale(1 1)">S</text>
<text transform="translate(3721.5 285.5) scale(1 1)">C</text>
<rect x="3643.5" y="498.5" width="119" height="112" fill="none" stroke-width="6.9"/>
<rect x="3779" y="1" width="4" height="3" fill="#000" stroke-width="0"/>
<rect x="3780" y="0" width="1" height="1" fill="#000" stroke-width="0"/>
<polygon points="3666,544 3703.1,544 3703.1,525.8 3740.1,554.5 3703.1,583.2 3703.1,564 3666,564" fill="#000" stroke="none"/>
<polygon points="3643,381.5 3660.8,366.5 3660.8,374.1 3708.1,374.1 3708.1,366.5 3725.9,381.5 3708.1,396.6 3708.1,388.9 3660.8,388.9 3660.8,396.6" fill="#000" stroke="none"/>
<polyline points="3699.4,360.71 3706.43,335.98 3741.55,353.79 3747.69,371.9 3770.25,386.44 3766.09,404.55 3739.28,408.8 3727.7,419.1 3688.12,419.59 3691.29,407.02" fill="none" stroke-width="9.2" stroke-linejoin="miter" stroke-linecap="butt"/>
<polygon points="3667.54,425.82 3674.46,424.83 3680.4,426.81 3687.33,430.77 3689.31,433.74 3693.26,435.92 3741.75,436.91 3745.21,440.67 3746.9,445.61 3744.72,450.56 3738.78,453.53 3689.8,453.53 3687.33,454.72 3677.43,463.42 3674.46,464.91 3665.06,464.91 3662.1,463.42 3658.14,458.48 3655.47,453.53 3654.18,446.6 3655.17,443.14 3659.62,443.14 3668.53,448.09 3671.5,447.59 3672.98,441.16 3667.54,437.7 3661.6,434.73 3661.11,432.26 3663.09,429.78" fill="#000" stroke="none"/>
</svg>
</body></html>
